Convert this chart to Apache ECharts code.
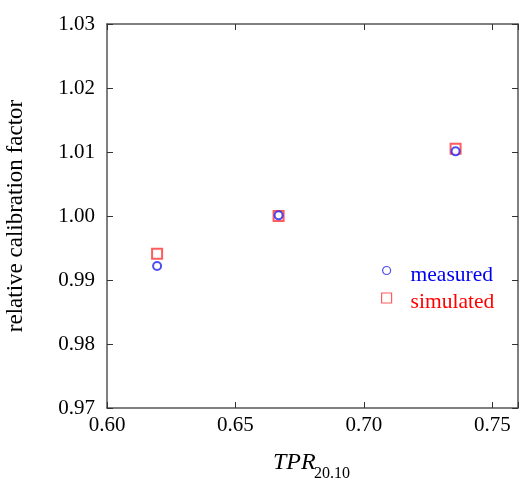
<!DOCTYPE html>
<html><head><meta charset="utf-8">
<script src="https://cdn.jsdelivr.net/npm/echarts@6/dist/echarts.min.js"></script>
<style>html,body{margin:0;padding:0;background:#fff}#c{width:521px;height:482px}</style>
</head><body><div id="c"></div>
<script>
const tpr = [0.6195, 0.6668, 0.7357];
const measured = [0.9922, 1.0001, 1.0101];
const simulated = [0.9941, 1.0000, 1.0105];
const xTicks = [0.60, 0.65, 0.70, 0.75];
const yTicks = [0.97, 0.98, 0.99, 1.00, 1.01, 1.02, 1.03];
const seriesNames = ['measured', 'simulated'];
const FONT = '"Liberation Serif", "DejaVu Serif", serif';

const chart = echarts.init(document.getElementById('c'));
const axisLine = {show: true, lineStyle: {color: '#555', width: 1.5}};
const tick = {show: true, inside: true, length: 6, lineStyle: {color: '#333', width: 1}};
chart.setOption({
  animation: false,
  grid: {left: 107, top: 24, right: 3, bottom: 74},
  xAxis: [
    {type: 'value', min: 0.60, max: 0.76, interval: 0.05, axisLine, axisTick: tick, splitLine: {show: false},
     axisLabel: {fontFamily: FONT, fontSize: 21, color: '#000', margin: 7,
       formatter: v => xTicks.some(t => Math.abs(t - v) < 1e-9) ? v.toFixed(2) : ''}},
    {type: 'value', position: 'top', min: 0.60, max: 0.76, interval: 0.05, axisLine, axisTick: tick,
     axisLabel: {show: false}, splitLine: {show: false}}
  ],
  yAxis: [
    {type: 'value', min: 0.97, max: 1.03, interval: 0.01, axisLine, axisTick: tick, splitLine: {show: false},
     axisLabel: {fontFamily: FONT, fontSize: 21, color: '#000', margin: 12,
       formatter: v => yTicks.some(t => Math.abs(t - v) < 1e-9) ? v.toFixed(2) : ''}},
    {type: 'value', position: 'right', min: 0.97, max: 1.03, interval: 0.01, axisLine, axisTick: tick,
     axisLabel: {show: false}, splitLine: {show: false}}
  ],
  legend: {
    orient: 'vertical', left: 376, top: 259, itemGap: 5.5, itemWidth: 10, itemHeight: 10,
    formatter: name => '{t|' + name + '}',
    textStyle: {fontFamily: FONT, fontSize: 21.5, rich: {t: {fontFamily: FONT, fontSize: 21.5, padding: [9, 0, 0, 14]}}},
    data: [
      {name: seriesNames[0], icon: 'path://M0,0M10,10M9,5A4,4,0,1,1,1,5A4,4,0,1,1,9,5Z',
       itemStyle: {color: 'rgba(0,0,0,0)', borderColor: '#2222ee', borderWidth: 1.2},
       textStyle: {color: '#0000ee'}},
      {name: seriesNames[1], icon: 'rect',
       itemStyle: {color: 'rgba(0,0,0,0)', borderColor: '#ff3333', borderWidth: 1.2},
       textStyle: {color: '#ff0000'}}
    ]
  },
  series: [
    {name: seriesNames[1], type: 'scatter', symbol: 'emptyRect', symbolSize: 10, z: 2,
     itemStyle: {color: '#ff3333', borderWidth: 1.2},
     data: tpr.map((x, i) => [x, simulated[i]])},
    {name: seriesNames[0], type: 'scatter', symbol: 'emptyCircle', symbolSize: 8, z: 3,
     itemStyle: {color: '#2222ee', borderWidth: 1.2},
     data: tpr.map((x, i) => [x, measured[i]])}
  ],
  graphic: [
    {type: 'text', left: 273, top: 451, style: {text: 'TPR', fontFamily: FONT, fontStyle: 'italic', fontSize: 24, fill: '#000'}},
    {type: 'text', left: 314, top: 466, style: {text: '20.10', fontFamily: FONT, fontSize: 16, fill: '#000'}},
    {type: 'text', x: 16, y: 216, rotation: Math.PI / 2,
     style: {text: 'relative calibration factor', fontFamily: FONT, fontSize: 23, fill: '#000', align: 'center', verticalAlign: 'middle'}}
  ]
});
</script></body></html>
